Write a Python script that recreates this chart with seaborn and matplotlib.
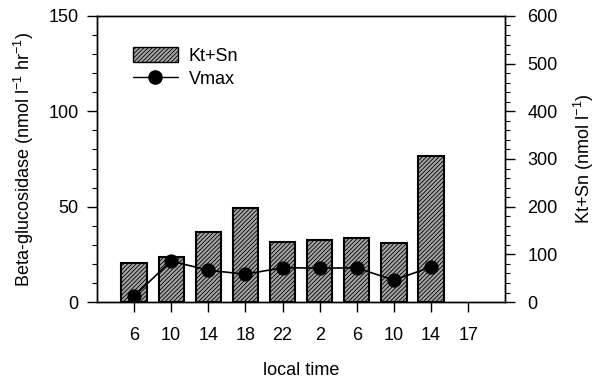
import matplotlib
matplotlib.use("Agg")
import matplotlib.pyplot as plt
import numpy as np
import pandas as pd
import seaborn as sns
from matplotlib.lines import Line2D
from matplotlib.patches import Patch
from matplotlib.ticker import MultipleLocator

# sampling slots along the time axis (labels repeat across two days)
time_labels = ["6", "10", "14", "18", "22", "2", "6", "10", "14", "17"]
slots = list(range(len(time_labels)))

# Kt+Sn (nmol l-1), right axis; last slot has no sample
kt_sn = [82, 94, 146, 197, 126, 131, 134, 124, 306, np.nan]
# Vmax beta-glucosidase (nmol l-1 hr-1), left axis
vmax = [3.1, 21.5, 16.7, 14.6, 18.0, 17.8, 17.9, 11.5, 18.4, np.nan]

df = pd.DataFrame({"slot": slots, "kt_sn": kt_sn, "vmax": vmax})

FS = 13
BAR_FACE = "#a4a4a4"
HATCH = "////////"

sns.set_theme(style="ticks")
plt.rcParams["font.family"] = ["Liberation Sans", "DejaVu Sans"]
plt.rcParams["text.color"] = "black"
plt.rcParams["axes.labelcolor"] = "black"
plt.rcParams["xtick.color"] = "black"
plt.rcParams["ytick.color"] = "black"
plt.rcParams["hatch.linewidth"] = 0.6
plt.rcParams["hatch.color"] = "#1a1a1a"

fig = plt.figure(figsize=(5.98, 3.79), dpi=100)
ax = fig.add_axes([0.162, 0.203, 0.683, 0.755])
ax2 = ax.twinx()

bars = df.dropna(subset=["kt_sn"])
sns.barplot(data=bars, x="slot", y="kt_sn", order=slots, ax=ax2,
            color=BAR_FACE, width=0.68, edgecolor="black", linewidth=1.5,
            hatch=HATCH, saturation=1, errorbar=None)

line = df.dropna(subset=["vmax"])
sns.lineplot(data=line, x="slot", y="vmax", ax=ax, color="black",
             linewidth=1.2, marker="o", markersize=9.5,
             markeredgecolor="black", markerfacecolor="black")

ax.set_zorder(ax2.get_zorder() + 1)
ax.patch.set_visible(False)

ax.set_xlim(-1, 10)
ax.set_ylim(0, 150)
ax2.set_ylim(0, 600)
ax.set_xticks(slots)
ax.set_xticklabels(time_labels)
ax2.set_xticks(slots)
ax2.set_xticklabels(time_labels)

ax.yaxis.set_major_locator(MultipleLocator(50))
ax.yaxis.set_minor_locator(MultipleLocator(10))
ax2.yaxis.set_major_locator(MultipleLocator(100))
ax2.yaxis.set_minor_locator(MultipleLocator(20))

for a in (ax, ax2):
    a.tick_params(axis="both", which="major", length=7, width=1.0,
                  labelsize=FS, direction="out", color="black", pad=6)
    a.tick_params(axis="both", which="minor", length=3.5, width=0.8,
                  direction="out", color="black")
    for s in a.spines.values():
        s.set_color("black")
        s.set_linewidth(1.0)
    a.set_xlabel("")

ax.tick_params(axis="x", pad=11)
ax2.tick_params(axis="y", pad=9)
ax.set_xlabel("local time", fontsize=FS, labelpad=13)
ax.set_ylabel(r"Beta-glucosidase (nmol l$^{\mathregular{-1}}$ hr$^{\mathregular{-1}}$)",
              fontsize=FS, labelpad=9)
ax2.set_ylabel(r"Kt+Sn (nmol l$^{\mathregular{-1}}$)", fontsize=FS, labelpad=10)

handles = [
    Patch(facecolor=BAR_FACE, edgecolor="black", hatch=HATCH, linewidth=1.0),
    Line2D([0], [0], color="black", linewidth=1.0, marker="o", markersize=9.5),
]
ax.legend(handles, ["Kt+Sn", "Vmax"], loc="upper left", bbox_to_anchor=(0.07, 0.915),
          frameon=False, fontsize=FS, handlelength=2.5, handleheight=0.9,
          handletextpad=0.6, borderaxespad=0, labelspacing=0.3)

fig.savefig("out.png", dpi=100)
